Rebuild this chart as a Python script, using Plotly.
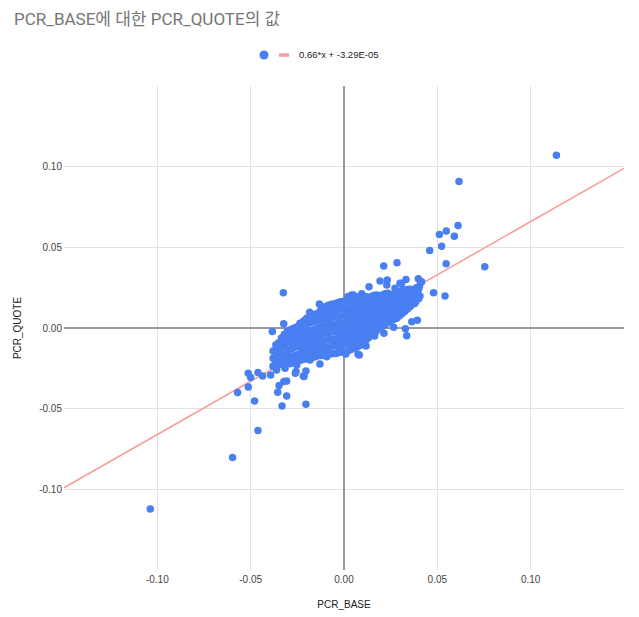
import plotly.graph_objects as go

# ---- outlying / fringe points ----
out_base = [
    0.1138, 0.0616, 0.0611, 0.0548, 0.0511, 0.0591, 0.0523, 0.0459, 0.0547, 0.0754,
    0.0411, 0.0480, 0.0541, -0.1038, -0.0597, -0.0461, -0.0479, -0.0570, -0.0513, -0.0355,
    -0.0332, -0.0307, -0.0348, -0.0322, -0.0325, -0.0384, -0.0323, -0.0132, -0.0184, -0.0236,
    -0.0280, -0.0513, -0.0500, -0.0461, -0.0436, -0.0204, -0.0393, -0.0218, -0.0204, -0.0257,
    -0.0347, -0.0355, -0.0129, 0.0213, 0.0284, 0.0193, 0.0232, 0.0134, 0.0309, 0.0398,
    0.0314, 0.0295, 0.0359, 0.0371, 0.0336, 0.0363, 0.0393, 0.0266, 0.0329, 0.0336,
    0.0214, 0.0164, 0.0118, 0.0075, 0.0282, 0.0282, 0.0050, -0.0004, -0.0043, 0.0332,
    -0.0370, -0.0379, -0.0361, -0.0316, -0.0253, -0.0182, -0.0093, -0.0039, 0.0229, 0.0273,
    0.0300, 0.0416, 0.0371, 0.0398, 0.0380, 0.0184, 0.0082, 0.0010, 0.0041, 0.0068,
    -0.0307, -0.0261, -0.0214, 0.0407, 0.0405, 0.0388, 0.0022, 0.0095,
]
out_quote = [
    0.1071, 0.0908, 0.0635, 0.0602, 0.0580, 0.0569, 0.0507, 0.0480, 0.0398, 0.0379,
    0.0283, 0.0219, 0.0198, -0.1122, -0.0802, -0.0635, -0.0452, -0.0400, -0.0365, -0.0398,
    -0.0483, -0.0421, -0.0357, -0.0332, 0.0219, -0.0021, 0.0027, 0.0149, 0.0097, 0.0029,
    -0.0023, -0.0280, -0.0307, -0.0276, -0.0297, -0.0472, -0.0291, -0.0297, -0.0266, -0.0270,
    -0.0223, -0.0188, -0.0223, 0.0384, 0.0404, 0.0291, 0.0297, 0.0256, 0.0277, 0.0305,
    0.0239, 0.0225, 0.0219, 0.0153, 0.0122, 0.0039, 0.0048, 0.0004, -0.0004, -0.0048,
    -0.0033, -0.0050, -0.0111, -0.0163, 0.0060, 0.0132, 0.0204, 0.0163, 0.0132, 0.0301,
    -0.0194, -0.0240, -0.0260, -0.0250, -0.0229, -0.0198, -0.0178, -0.0157, 0.0266, 0.0246,
    0.0277, 0.0287, 0.0204, 0.0204, 0.0153, 0.0008, -0.0167, -0.0161, 0.0204, 0.0194,
    -0.0328, -0.0280, -0.0301, 0.0198, 0.0262, 0.0250, 0.0196, 0.0212,
]

# ---- dense central cluster, read column by column ----
core_base_cols = [
    -0.038, -0.0365, -0.035, -0.0335, -0.032, -0.0305, -0.029, -0.0275, -0.026, -0.0245,
    -0.023, -0.0215, -0.020, -0.0185, -0.017, -0.0155, -0.014, -0.0125, -0.011, -0.0095,
    -0.008, -0.0065, -0.005, -0.0035, -0.002, -0.0005, 0.001, 0.0025, 0.004, 0.0055,
    0.007, 0.0085, 0.010, 0.0115, 0.013, 0.0145, 0.016, 0.0175, 0.019, 0.0205,
    0.022, 0.0235, 0.025, 0.0265, 0.028, 0.0295, 0.031, 0.0325, 0.034, 0.0355,
    0.037, 0.0385, 0.040,
]
core_quote_cols = [
    [-0.0235, -0.0188, -0.0142],
    [-0.0231, -0.0183, -0.0137, -0.0105],
    [-0.0228, -0.0176, -0.0131, -0.0092],
    [-0.0219, -0.0172, -0.0126, -0.0086, -0.0062],
    [-0.0214, -0.0168, -0.0121, -0.0079, -0.0041],
    [-0.0218, -0.0173, -0.0128, -0.0084, -0.0046, -0.0021],
    [-0.0222, -0.0179, -0.0134, -0.0088, -0.0052, -0.0012],
    [-0.0215, -0.0175, -0.0127, -0.0085, -0.0045, -0.0005],
    [-0.0209, -0.0171, -0.0118, -0.0083, -0.0038, 0.0003],
    [-0.0203, -0.0164, -0.0116, -0.0076, -0.0033, 0.0011],
    [-0.0198, -0.0157, -0.0113, -0.0069, -0.0028, 0.0018],
    [-0.0194, -0.0152, -0.0110, -0.0066, -0.0024, 0.0022, 0.0045],
    [-0.0191, -0.0148, -0.0107, -0.0062, -0.0021, 0.0027, 0.0061],
    [-0.0187, -0.0143, -0.0102, -0.0058, -0.0016, 0.0032, 0.0070],
    [-0.0183, -0.0139, -0.0097, -0.0053, -0.0012, 0.0038, 0.0079],
    [-0.0178, -0.0135, -0.0092, -0.0048, -0.0005, 0.0043, 0.0085],
    [-0.0172, -0.0131, -0.0088, -0.0043, 0.0002, 0.0048, 0.0091],
    [-0.0170, -0.0127, -0.0084, -0.0038, 0.0006, 0.0052, 0.0094, 0.0112],
    [-0.0168, -0.0122, -0.0079, -0.0032, 0.0011, 0.0057, 0.0098, 0.0128],
    [-0.0165, -0.0120, -0.0075, -0.0030, 0.0015, 0.0059, 0.0100, 0.0135],
    [-0.0161, -0.0118, -0.0071, -0.0027, 0.0019, 0.0061, 0.0103, 0.0142],
    [-0.0160, -0.0113, -0.0069, -0.0024, 0.0021, 0.0065, 0.0108, 0.0147],
    [-0.0158, -0.0109, -0.0068, -0.0021, 0.0023, 0.0069, 0.0112, 0.0151],
    [-0.0153, -0.0108, -0.0065, -0.0020, 0.0026, 0.0070, 0.0115, 0.0157],
    [-0.0149, -0.0107, -0.0062, -0.0018, 0.0028, 0.0072, 0.0118, 0.0162],
    [-0.0148, -0.0102, -0.0059, -0.0014, 0.0030, 0.0076, 0.0120, 0.0165],
    [-0.0147, -0.0098, -0.0057, -0.0011, 0.0032, 0.0079, 0.0121, 0.0168],
    [-0.0139, -0.0093, -0.0050, -0.0004, 0.0038, 0.0084, 0.0126, 0.0172],
    [-0.0131, -0.0088, -0.0042, 0.0003, 0.0044, 0.0088, 0.0131, 0.0177],
    [-0.0125, -0.0080, -0.0035, 0.0010, 0.0051, 0.0095, 0.0136, 0.0183],
    [-0.0118, -0.0071, -0.0029, 0.0017, 0.0058, 0.0102, 0.0141, 0.0188],
    [-0.0108, -0.0062, -0.0019, 0.0025, 0.0065, 0.0107, 0.0147, 0.0190],
    [-0.0098, -0.0052, -0.0009, 0.0033, 0.0071, 0.0112, 0.0152, 0.0191],
    [-0.0080, -0.0035, 0.0006, 0.0047, 0.0085, 0.0126, 0.0170, 0.0195],
    [-0.0062, -0.0018, 0.0022, 0.0061, 0.0099, 0.0141, 0.0187],
    [-0.0047, -0.0003, 0.0037, 0.0076, 0.0116, 0.0156, 0.0195],
    [-0.0031, 0.0012, 0.0052, 0.0091, 0.0132, 0.0171, 0.0203],
    [-0.0017, 0.0027, 0.0065, 0.0106, 0.0147, 0.0185, 0.0205],
    [-0.0002, 0.0041, 0.0078, 0.0121, 0.0162, 0.0198],
    [0.0010, 0.0052, 0.0090, 0.0132, 0.0172, 0.0205],
    [0.0021, 0.0062, 0.0101, 0.0142, 0.0181, 0.0212],
    [0.0032, 0.0072, 0.0112, 0.0152, 0.0191, 0.0215],
    [0.0043, 0.0081, 0.0122, 0.0161, 0.0201],
    [0.0053, 0.0092, 0.0132, 0.0172, 0.0210],
    [0.0062, 0.0103, 0.0141, 0.0182, 0.0219],
    [0.0075, 0.0116, 0.0156, 0.0197, 0.0222],
    [0.0088, 0.0129, 0.0171, 0.0211],
    [0.0103, 0.0144, 0.0185, 0.0225],
    [0.0118, 0.0158, 0.0198, 0.0238],
    [0.0134, 0.0175, 0.0213, 0.0240],
    [0.0149, 0.0191, 0.0228],
    [0.0166, 0.0210, 0.0236],
    [0.0182, 0.0241],
]

trend_slope = 0.66
trend_intercept = -3.29e-05
trend_label = "0.66*x + -3.29E-05"

tick_vals = [-0.10, -0.05, 0.00, 0.05, 0.10]
tick_text = ["-0.10", "-0.05", "0.00", "0.05", "0.10"]
axis_range = [-0.15, 0.15]

title_text = "PCR_BASE에 대한 PCR_QUOTE의 값"
x_title = "PCR_BASE"
y_title = "PCR_QUOTE"

POINT_COLOR = "#4a7ff2"
TREND_COLOR = "#f7a19d"

# ---- assemble ----
pcr_base = list(out_base)
pcr_quote = list(out_quote)
for xv, ys in zip(core_base_cols, core_quote_cols):
    pcr_base += [xv] * len(ys)
    pcr_quote += ys

trend_x = axis_range
trend_y = [trend_slope * v + trend_intercept for v in trend_x]

FONT = "Liberation Sans, Arial, Noto Sans CJK KR, sans-serif"

OFF = 8  # default page body margin around the figure
W, H = 631, 609
ML, MR, MT, MB = 56, 15, 78, 47
PW, PH = W - ML - MR, H - MT - MB


def px(xp):  # page pixel -> paper x
    return (xp - OFF - ML) / PW


def py(yp):  # page pixel -> paper y
    return (H - MB - (yp - OFF)) / PH


fig = go.Figure()
fig.add_trace(go.Scatter(
    x=trend_x, y=trend_y, mode="lines", name=trend_label,
    line=dict(color=TREND_COLOR, width=1.6), hoverinfo="skip", showlegend=False,
))
fig.add_trace(go.Scatter(
    x=pcr_base, y=pcr_quote, mode="markers", name="PCR_QUOTE",
    marker=dict(color=POINT_COLOR, size=7.5, line=dict(width=0)), showlegend=False,
))

axis_common = dict(
    range=axis_range, tickvals=tick_vals, ticktext=tick_text,
    showgrid=True, gridcolor="#e2e2e2", gridwidth=1,
    zeroline=True, zerolinecolor="#9a9a9a", zerolinewidth=1.6,
    showline=False, ticks="", automargin=False,
    tickfont=dict(family=FONT, size=10, color="#444444"),
    fixedrange=True,
)

# legend (drawn to match the compact Google-style legend)
legend_shapes = [
    dict(type="circle", xref="paper", yref="paper",
         x0=px(259.5), x1=px(268.5), y0=py(59.5), y1=py(50.5),
         fillcolor=POINT_COLOR, line=dict(width=0)),
    dict(type="line", xref="paper", yref="paper",
         x0=px(279), x1=px(289), y0=py(55), y1=py(55),
         line=dict(color=TREND_COLOR, width=3.5)),
]
legend_text = dict(text=trend_label, xref="paper", yref="paper",
                   x=px(297), y=py(55), xanchor="left", yanchor="middle",
                   showarrow=False, font=dict(family=FONT, size=9.5, color="#222222"))

fig.update_layout(
    width=W, height=H,
    margin=dict(l=ML, r=MR, t=MT, b=MB),
    paper_bgcolor="white", plot_bgcolor="white",
    title=dict(text=title_text, x=6 / W, xanchor="left", xref="container",
               y=1 - 11 / H, yanchor="middle", yref="container",
               font=dict(family="Roboto, Noto Sans CJK KR, sans-serif", size=17, color="#757575")),
    xaxis=dict(**axis_common, ticklabelstandoff=2,
               title=dict(text=x_title, standoff=16,
                          font=dict(family=FONT, size=10, color="#222222"))),
    yaxis=dict(**axis_common, ticklabelstandoff=1,
               title=dict(text=y_title, standoff=15,
                          font=dict(family=FONT, size=10, color="#222222"))),
    shapes=legend_shapes,
    annotations=[legend_text],
    showlegend=False,
)

fig.write_html("out.html")
